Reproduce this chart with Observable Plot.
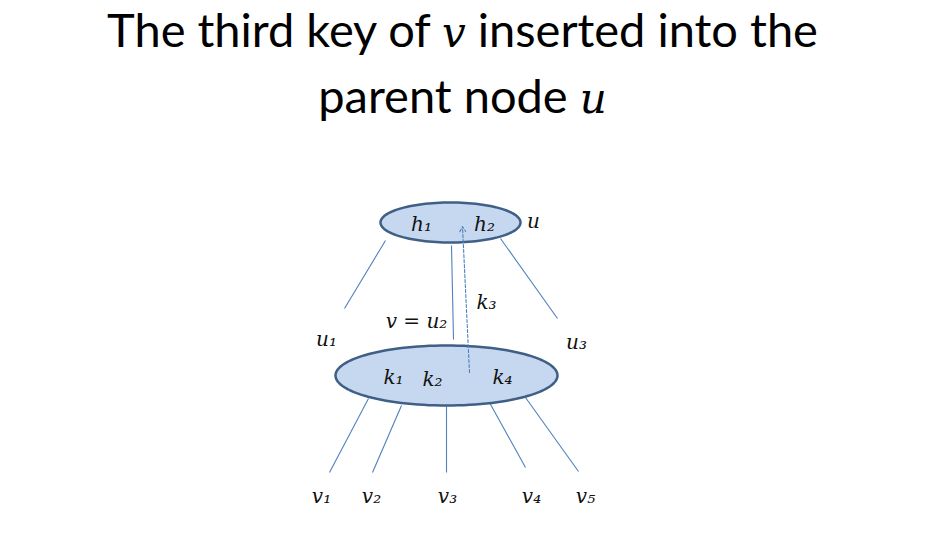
<!DOCTYPE html>
<html><head><meta charset="utf-8">
<script src="https://cdn.jsdelivr.net/npm/d3@7"></script>
<script src="https://cdn.jsdelivr.net/npm/@observablehq/plot@0.6"></script>
<style>
body{margin:0;background:#fff;}
#wrap{position:relative;width:925px;height:542px;}
#title{position:absolute;left:0;top:-2px;width:925px;text-align:center;font-family:Lato,"Open Sans",sans-serif;font-size:47px;line-height:62px;color:#000;}
#title i{font-family:"DejaVu Serif",serif;font-size:42px;}
</style></head><body>
<div id="wrap"><div id="chart"></div>
<div id="title">The third key of <i>v</i> inserted into the<br>parent node <i>u</i></div></div>
<script>
const nodes = [
  {name:"u", cx:450, cy:222, rx:70, ry:20},
  {name:"v", cx:446, cy:375, rx:111, ry:30}
];
const edges = [
  {x1:385,y1:240,x2:344,y2:308},
  {x1:451,y1:245,x2:453,y2:339},
  {x1:500,y1:238,x2:557,y2:318},
  {x1:368,y1:398,x2:329,y2:472},
  {x1:401,y1:405,x2:372,y2:472},
  {x1:446,y1:406,x2:446,y2:472},
  {x1:489,y1:402,x2:525,y2:467},
  {x1:525,y1:397,x2:578,y2:471}
];
const arrow = [{x1:469,y1:372,x2:462,y2:226}];
const labels = [
  {t:"h₁",x:421,y:224},{t:"h₂",x:484,y:224},{t:"u",x:533,y:221},
  {t:"k₃",x:486,y:302},{t:"v = u₂",x:416,y:321},
  {t:"u₁",x:326,y:339},{t:"u₃",x:576,y:342},
  {t:"k₁",x:393,y:377},{t:"k₂",x:432,y:379},{t:"k₄",x:502,y:377},
  {t:"v₁",x:321,y:496},{t:"v₂",x:371,y:496},{t:"v₃",x:447,y:496},
  {t:"v₄",x:531,y:496},{t:"v₅",x:585,y:496}
];
const ellPts = nodes.flatMap(n => d3.range(0,121).map(i => {
  const a = i/120*2*Math.PI;
  return {name:n.name, x:n.cx+n.rx*Math.cos(a), y:n.cy+n.ry*Math.sin(a)};
}));
const chart = Plot.plot({
  width:925, height:542, margin:0,
  x:{domain:[0,925], range:[0,925], axis:null},
  y:{domain:[0,542], range:[0,542], axis:null},
  marks:[
    Plot.link(edges,{x1:"x1",y1:"y1",x2:"x2",y2:"y2",stroke:"#4f81bd",strokeWidth:1.1}),
    Plot.line(ellPts,{x:"x",y:"y",z:"name",fill:"#c6d8ef",stroke:"#3f5f86",strokeWidth:2.5}),
    Plot.arrow(arrow,{x1:"x1",y1:"y1",x2:"x2",y2:"y2",stroke:"#4f81bd",strokeWidth:1.1,strokeDasharray:"3,2",headLength:8}),
    Plot.text(labels,{x:"x",y:"y",text:"t",fontSize:20,fontStyle:"italic",fontFamily:"DejaVu Serif",fill:"#111"})
  ]
});
document.getElementById("chart").append(chart);
</script></body></html>
